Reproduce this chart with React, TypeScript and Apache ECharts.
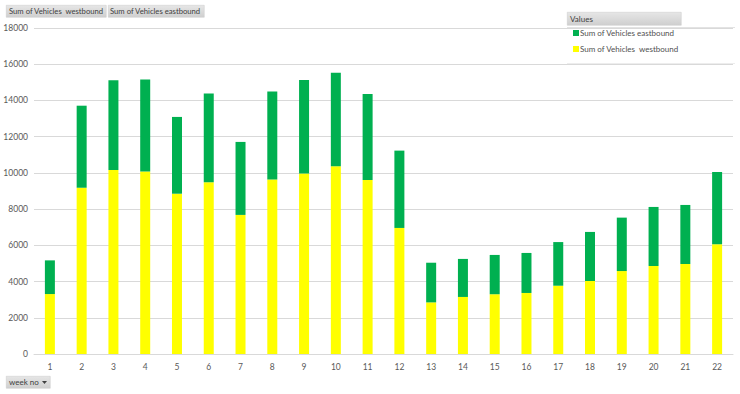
import React, { useEffect, useRef } from "react";
import * as echarts from "echarts";

const weeks = ["1","2","3","4","5","6","7","8","9","10","11","12","13","14","15","16","17","18","19","20","21","22"];
const westbound = [3310, 9180, 10160, 10070, 8850, 9480, 7680, 9640, 9960, 10360, 9610, 6960, 2850, 3150, 3300, 3370, 3770, 4030, 4580, 4860, 4970, 6060];
const eastbound = [1860, 4530, 4950, 5080, 4240, 4910, 4030, 4860, 5170, 5170, 4750, 4270, 2190, 2100, 2170, 2210, 2410, 2710, 2950, 3260, 3260, 3990];
const westName = "Sum of Vehicles  westbound";
const eastName = "Sum of Vehicles eastbound";
const fieldButtons = ["Sum of Vehicles  westbound", "Sum of Vehicles eastbound"];
const legendTitle = "Values";
const axisButton = "week no";

const FONT = "Lato, 'Liberation Sans', sans-serif";

export default function App() {
  const ref = useRef<HTMLDivElement>(null);
  useEffect(() => {
    if (!ref.current) return;
    const chart = echarts.init(ref.current, null, { renderer: "svg" });
    const btnFill = new echarts.graphic.LinearGradient(0, 0, 0, 1, [
      { offset: 0, color: "#e6e6e6" },
      { offset: 1, color: "#cfcfcf" },
    ]);
    chart.setOption({
      animation: false,
      backgroundColor: "#ffffff",
      textStyle: { fontFamily: FONT },
      grid: { left: 34, right: 7, top: 28, bottom: 40, containLabel: false },
      legend: {
        orient: "vertical",
        left: 573,
        top: 29,
        padding: 0,
        itemWidth: 6,
        itemHeight: 6,
        itemGap: 8,
        icon: "rect",
        data: [eastName, westName],
        textStyle: { fontSize: 8, color: "#505050", fontFamily: FONT, padding: [0, 0, 0, -4] },
      },
      xAxis: {
        type: "category",
        data: weeks,
        axisLine: { lineStyle: { color: "#d9d9d9" } },
        axisTick: { show: false },
        axisLabel: { fontSize: 8.5, color: "#595959", margin: 8, fontFamily: FONT },
      },
      yAxis: {
        type: "value",
        min: 0,
        max: 18000,
        interval: 2000,
        axisLine: { show: false },
        axisTick: { show: false },
        axisLabel: {
          fontSize: 8.5,
          color: "#595959",
          margin: 6,
          fontFamily: FONT,
          formatter: (v: number) => String(v),
        },
        splitLine: { lineStyle: { color: "#d9d9d9", width: 1 } },
      },
      series: [
        {
          name: westName,
          type: "bar",
          stack: "total",
          data: westbound,
          barWidth: 10,
          itemStyle: { color: "#ffff00" },
        },
        {
          name: eastName,
          type: "bar",
          stack: "total",
          data: eastbound,
          barWidth: 10,
          itemStyle: { color: "#00b050" },
        },
      ],
      graphic: [
        {
          type: "rect",
          left: 6,
          top: 5,
          shape: { width: 100, height: 12 },
          style: { fill: btnFill, stroke: "#c8c8c8", lineWidth: 0.5 },
        },
        {
          type: "text",
          x: 9,
          y: 11,
          scaleX: 0.96,
          style: { text: fieldButtons[0], fontSize: 8, fill: "#404040", fontFamily: FONT, verticalAlign: "middle" },
        },
        {
          type: "rect",
          left: 108,
          top: 5,
          shape: { width: 96, height: 12 },
          style: { fill: btnFill, stroke: "#c8c8c8", lineWidth: 0.5 },
        },
        {
          type: "text",
          x: 110,
          y: 11,
          scaleX: 0.96,
          style: { text: fieldButtons[1], fontSize: 8, fill: "#404040", fontFamily: FONT, verticalAlign: "middle" },
        },
        {
          type: "rect",
          left: 567,
          top: 12,
          shape: { width: 114, height: 13 },
          style: { fill: btnFill, stroke: "#c8c8c8", lineWidth: 0.5 },
        },
        {
          type: "text",
          x: 570,
          y: 18.5,
          style: { text: legendTitle, fontSize: 8, fill: "#404040", fontFamily: FONT, verticalAlign: "middle" },
        },
        {
          type: "line",
          shape: { x1: 567, y1: 27.5, x2: 735, y2: 27.5 },
          style: { stroke: "#e3e3e3", lineWidth: 1 },
        },
        {
          type: "line",
          shape: { x1: 567, y1: 63.5, x2: 735, y2: 63.5 },
          style: { stroke: "#ededed", lineWidth: 1 },
        },
        {
          type: "rect",
          left: 6,
          top: 376,
          shape: { width: 44, height: 12 },
          style: { fill: btnFill, stroke: "#c8c8c8", lineWidth: 0.5 },
        },
        {
          type: "text",
          x: 9,
          y: 382,
          style: { text: axisButton, fontSize: 8, fill: "#404040", fontFamily: FONT, verticalAlign: "middle" },
        },
        {
          type: "polygon",
          shape: { points: [[42, 381], [47, 381], [44.5, 384]] },
          style: { fill: "#404040" },
        },
      ],
    });
    return () => chart.dispose();
  }, []);
  return (
    <div
      ref={ref}
      style={{ position: "absolute", left: 0, top: 0, width: 740, height: 394 }}
    />
  );
}
